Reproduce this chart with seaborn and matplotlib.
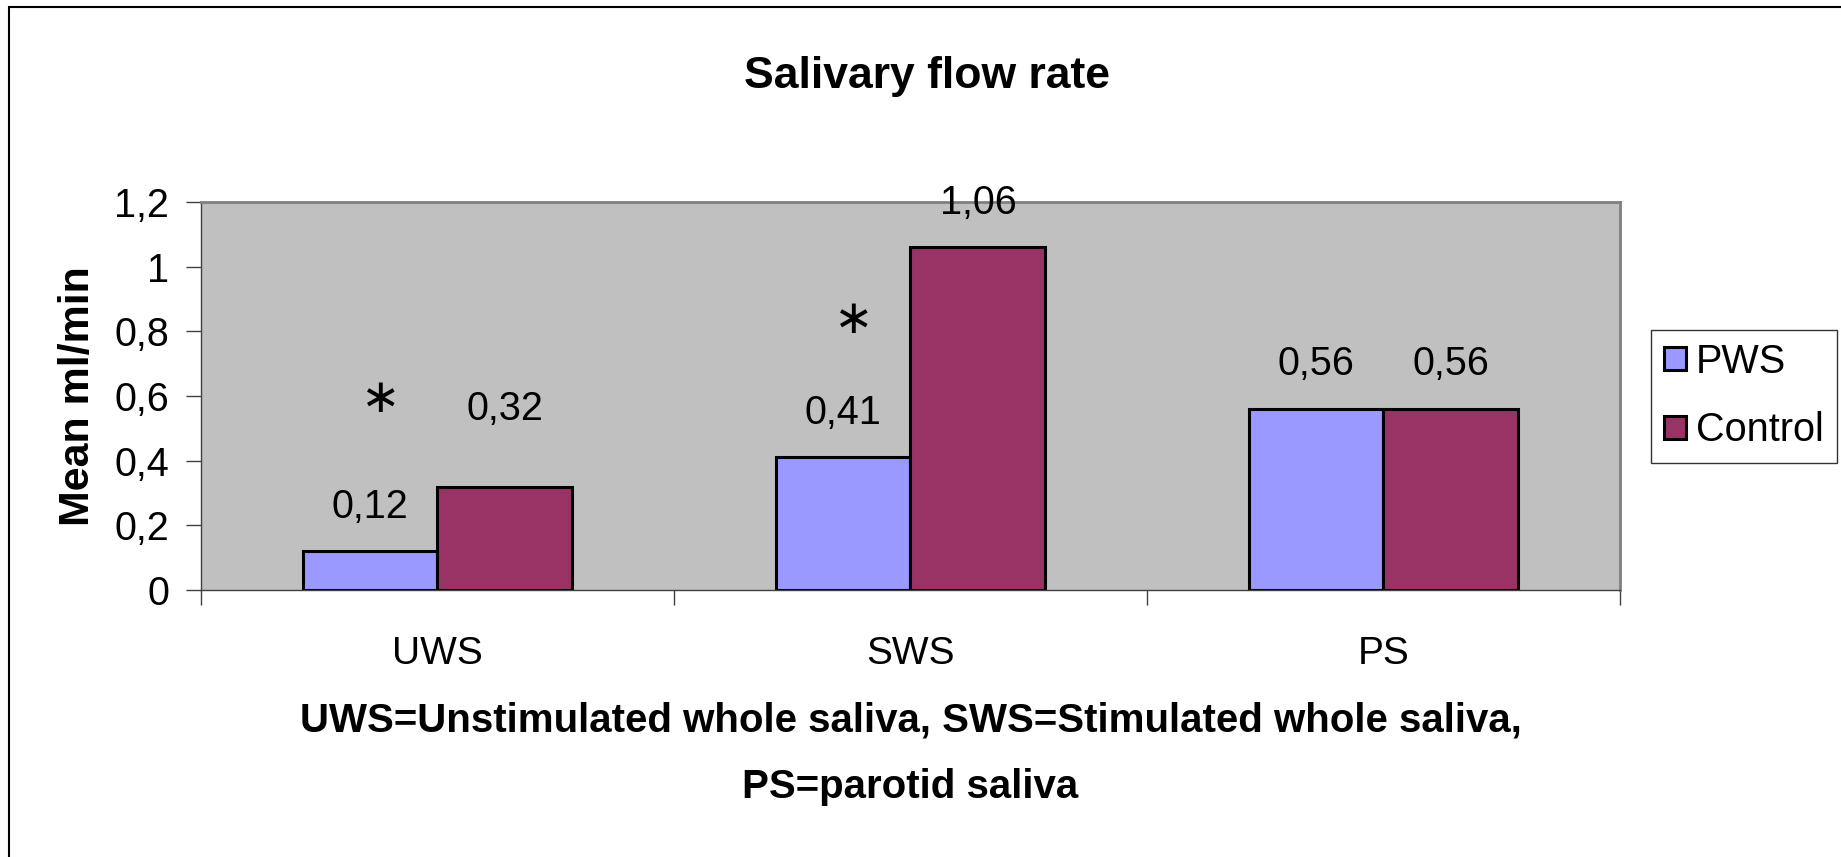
import pandas as pd
import matplotlib.pyplot as plt
import seaborn as sns
from matplotlib.patches import Rectangle

# data
categories = ["UWS", "SWS", "PS"]
groups = ["PWS", "Control"]
pws_values = [0.12, 0.41, 0.56]
control_values = [0.32, 1.06, 0.56]
y_ticks = [0, 0.2, 0.4, 0.6, 0.8, 1.0, 1.2]
y_tick_labels = ["0", "0,2", "0,4", "0,6", "0,8", "1", "1,2"]
sig_groups = ["UWS", "SWS"]
sig_levels = [0.59, 0.835]

df = pd.DataFrame({
    "category": categories * 2,
    "group": [groups[0]] * 3 + [groups[1]] * 3,
    "value": pws_values + control_values,
})

sns.set_theme(style="white")
plt.rcParams["font.family"] = ["Liberation Sans", "DejaVu Sans"]
plt.rcParams["text.color"] = "black"
plt.rcParams["axes.labelcolor"] = "black"
plt.rcParams["xtick.color"] = "black"
plt.rcParams["ytick.color"] = "black"

fig = plt.figure(figsize=(18.41, 8.57), dpi=100)
ax = fig.add_axes([201 / 1841, 1 - 590 / 857, 1419 / 1841, 388 / 857])

sns.barplot(
    data=df, x="category", y="value", hue="group",
    order=categories, hue_order=groups,
    palette={"PWS": "#9999FF", "Control": "#993366"},
    width=0.57, edgecolor="black", linewidth=2.2,
    saturation=1, errorbar=None, ax=ax,
)

ax.set_facecolor("#C0C0C0")
ax.set_xlim(-0.5, 2.5)
ax.set_ylim(0, 1.2)
ax.set_yticks(y_ticks)
ax.set_yticklabels(y_tick_labels, fontsize=28.5)
ax.tick_params(axis="y", left=True, length=11, width=1, color="#404040", pad=12)

# category labels in the middle, tick marks at the boundaries
ax.set_xticks([-0.5, 0.5, 1.5, 2.5])
ax.set_xticklabels([])
ax.set_xticks([0, 1, 2], minor=True)
ax.set_xticklabels(categories, minor=True, fontsize=28)
ax.tick_params(axis="x", which="major", bottom=True, length=11, width=1, color="#404040")
ax.tick_params(axis="x", which="minor", bottom=False, length=0, pad=33)

for side in ["top", "right"]:
    ax.spines[side].set_color("#808080")
    ax.spines[side].set_linewidth(2)
for side in ["left", "bottom"]:
    ax.spines[side].set_color("#404040")
    ax.spines[side].set_linewidth(1)

ax.set_ylabel("Mean ml/min", fontsize=31, fontweight="bold", labelpad=12)
ax.set_xlabel("UWS=Unstimulated whole saliva, SWS=Stimulated whole saliva,\nPS=parotid saliva",
              fontsize=29, fontweight="bold", labelpad=21, linespacing=1.97)
ax.set_title("Salivary flow rate", fontsize=32, fontweight="bold", pad=82, x=0.5116)

# value labels
label_offsets = {0.32: 56}
for container in ax.containers:
    for bar in container:
        h = bar.get_height()
        ax.annotate(f"{h:.2f}".replace(".", ","),
                    (bar.get_x() + bar.get_width() / 2, h),
                    xytext=(0, label_offsets.get(h, 32)), textcoords="offset points",
                    ha="center", va="center", fontsize=28.5)

# significance asterisks
for g, lvl in zip(sig_groups, sig_levels):
    i = categories.index(g)
    ax.text(i - 0.12, lvl, "∗", ha="center", va="center", fontsize=34,
            family=["DejaVu Sans"])

leg = ax.legend(loc="center left", bbox_to_anchor=(1.022, 0.5), fontsize=28.5,
                frameon=True, fancybox=False, edgecolor="black",
                handlelength=0.55, handleheight=0.55, handletextpad=0.25,
                borderpad=0.33, labelspacing=0.78, borderaxespad=0)
leg.get_frame().set_linewidth(1)

# outer chart border (top and left edges visible)
fig.patches.append(Rectangle((9 / 1841, -0.1), 1.2, 1 - 7 / 857 + 0.1,
                             transform=fig.transFigure, fill=False,
                             edgecolor="black", linewidth=1.5))

fig.savefig("out.png", dpi=100)
